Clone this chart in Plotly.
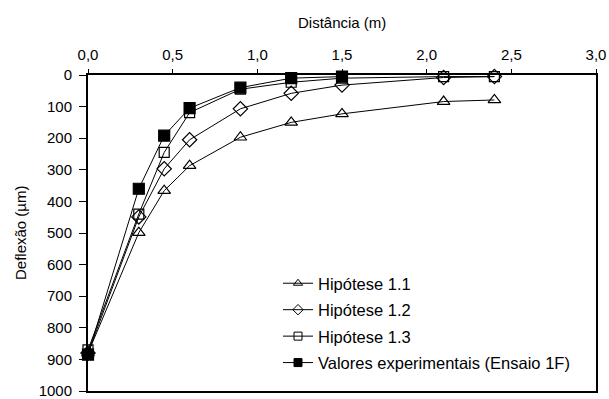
import plotly.graph_objects as go

distancia = [0.0, 0.3, 0.45, 0.6, 0.9, 1.2, 1.5, 2.1, 2.4]
hip_1_1 = [880, 499, 366, 287, 197, 150, 123, 84, 79]
hip_1_2 = [880, 449, 297, 205, 107, 58, 32, 8, 5]
hip_1_3 = [870, 440, 245, 119, 45, 23, 10, 5, 5]
dist_exp = [0.0, 0.3, 0.45, 0.6, 0.9, 1.2, 1.5]
experimental = [885, 360, 192, 105, 40, 10, 5]

FONT = "Liberation Sans, Arial, sans-serif"
FS = 15
FS_LEG = 16.5

# plot area in pixels
L, R, T, B = 88, 13, 75, 8
W, H = 609, 399
PW, PH = W - L - R, H - T - B

fig = go.Figure()
series = [
    ("Hipótese 1.1", distancia, hip_1_1, "triangle-up-open", 11),
    ("Hipótese 1.2", distancia, hip_1_2, "diamond-open", 11),
    ("Hipótese 1.3", distancia, hip_1_3, "square-open", 10),
    ("Valores experimentais (Ensaio 1F)", dist_exp, experimental, "square", 11),
]
for name, xs, ys, sym, sz in series:
    fig.add_trace(go.Scatter(
        x=xs, y=ys, name=name, mode="lines+markers", showlegend=False,
        line=dict(color="black", width=1),
        marker=dict(symbol=sym, size=sz, color="black",
                    line=dict(color="black", width=1.2)),
        cliponaxis=False,
    ))
# legend entries with smaller symbols (as in the reference)
for i, (name, xs, ys, sym, sz) in enumerate(series):
    fig.add_trace(go.Scatter(
        x=[None], y=[None], name=name, mode="lines+markers", showlegend=True,
        legendgroup=f"g{i}",
        line=dict(color="black", width=1),
        marker=dict(symbol=sym, size=8, color="black",
                    line=dict(color="black", width=1)),
    ))

fig.update_layout(
    width=W, height=H,
    margin=dict(l=L, r=R, t=T, b=B, autoexpand=False),
    paper_bgcolor="white", plot_bgcolor="white",
    separators=",.",
    font=dict(family=FONT, size=FS, color="black"),
    showlegend=True,
    legend=dict(x=(278 - L) / PW, y=1 - (266 - T) / PH, xanchor="left", yanchor="top",
                bgcolor="rgba(0,0,0,0)", font=dict(size=FS_LEG, family=FONT),
                traceorder="grouped", tracegroupgap=2, itemwidth=30),
    annotations=[
        dict(text="Distância (m)", x=0.5, y=1 + (T - 22) / PH,
             xref="paper", yref="paper", xanchor="center", yanchor="middle",
             showarrow=False, font=dict(size=FS, family=FONT)),
        dict(text="Deflexão (µm)", x=(20 - L) / PW, y=0.5, textangle=-90,
             xref="paper", yref="paper", xanchor="center", yanchor="middle",
             showarrow=False, font=dict(size=FS, family=FONT)),
    ],
)

fig.update_xaxes(
    side="top", range=[0, 3], dtick=0.5, tick0=0, tickformat=".1f",
    showline=True, linecolor="black", linewidth=2, mirror=True,
    ticks="outside", ticklen=4, tickcolor="black", tickwidth=1,
    ticklabelstandoff=3, ticklabeloverflow="allow",
    showgrid=False, zeroline=False, automargin=False,
)
fig.update_yaxes(
    range=[1000, 0], dtick=100, tick0=0,
    showline=True, linecolor="black", linewidth=2, mirror=True,
    ticks="outside", ticklen=7, tickcolor="black", tickwidth=1,
    ticklabelstandoff=4, ticklabeloverflow="allow",
    showgrid=False, zeroline=False, automargin=False,
)

fig.write_html(
    "out.html",
    post_script="document.body.style.margin='0';document.body.style.padding='0';"
                "document.documentElement.style.margin='0';",
)
